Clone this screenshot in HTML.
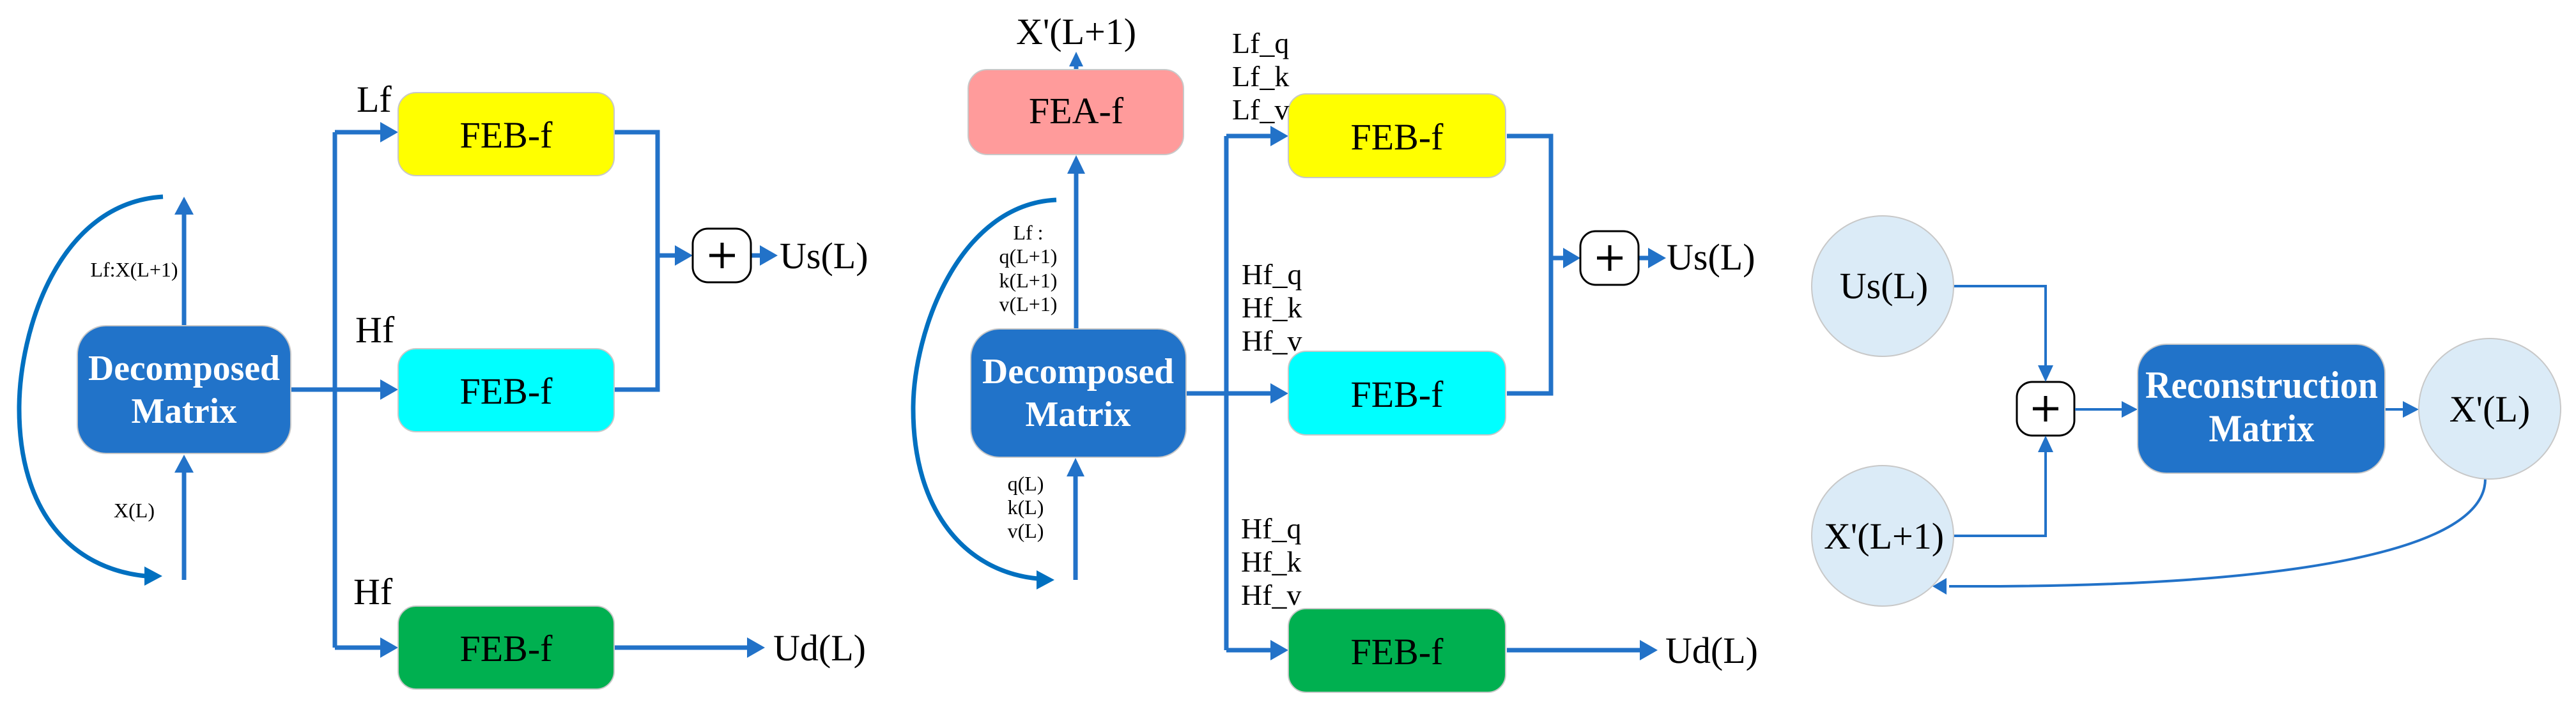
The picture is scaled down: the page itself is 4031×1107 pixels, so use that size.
<!DOCTYPE html>
<html><head><meta charset="utf-8"><style>
html,body{margin:0;padding:0;background:#fff;}
svg{display:block;}
svg text{font-family:"Liberation Serif","DejaVu Serif",serif;}
</style></head><body>
<svg width="4031" height="1107" viewBox="0 0 4031 1107" xmlns="http://www.w3.org/2000/svg" font-family="Liberation Serif, DejaVu Serif, serif">
<g fill="none" stroke="#2272c8" stroke-width="7">
<path d="M288,510 V335"/>
<path d="M288,908 V740"/>
<path d="M255,308 C90,318 30,520 30,640 C30,800 110,890 228,902" stroke="#0070c0"/>
<path d="M455,610 H596"/>
<path d="M524,207 V1014"/>
<path d="M524,207 H596 M524,1014 H596"/>
<path d="M961,207 H1029 V610 H961"/>
<path d="M1029,400 H1057"/>
<path d="M1175,400 H1190"/>
<path d="M961,1014 H1170"/>
<path d="M1684,515 V270"/>
<path d="M1684,108 V95"/>
<path d="M1683,908 V745"/>
<path d="M1653,313 C1500,320 1429,520 1429,640 C1429,800 1510,895 1624,906" stroke="#0070c0"/>
<path d="M1856,616 H1990"/>
<path d="M1919,213 V1018"/>
<path d="M1919,213 H1990 M1919,1018 H1990"/>
<path d="M2358,213 H2427 V616 H2358"/>
<path d="M2427,404 H2447"/>
<path d="M2564,404 H2580"/>
<path d="M2358,1018 H2568"/>
</g>
<g fill="#2272c8">
<polygon points="288,308 273,336 303,336"/>
<polygon points="288,712 273,740 303,740"/>
<polygon points="254,902 226,887 226,917" fill="#0070c0"/>
<polygon points="623,610 595,594 595,626"/>
<polygon points="623,207 595,191 595,223"/>
<polygon points="623,1014 595,998 595,1030"/>
<polygon points="1084,400 1056,384 1056,416"/>
<polygon points="1217,400 1189,384 1189,416"/>
<polygon points="1197,1014 1169,998 1169,1030"/>
<polygon points="1684,243 1670,272 1698,272"/>
<polygon points="1684,81 1673,104 1695,104"/>
<polygon points="1683,717 1669,746 1697,746"/>
<polygon points="1650,908 1622,893 1622,923" fill="#0070c0"/>
<polygon points="2016,213 1988,197 1988,229"/>
<polygon points="2016,616 1988,600 1988,632"/>
<polygon points="2016,1018 1988,1002 1988,1034"/>
<polygon points="2473,404 2446,388 2446,420"/>
<polygon points="2607,404 2579,388 2579,420"/>
<polygon points="2594,1018 2566,1002 2566,1034"/>
</g>
<g stroke="#c8c8c8" stroke-width="2">
<rect x="121" y="510" width="334" height="200" rx="45" fill="#2173c9"/>
<rect x="623" y="145" width="338" height="130" rx="28" fill="#ffff00"/>
<rect x="623" y="546" width="338" height="130" rx="28" fill="#00ffff"/>
<rect x="623" y="949" width="338" height="130" rx="28" fill="#00b050"/>
<rect x="1515" y="109" width="337" height="133" rx="30" fill="#ff9b9b"/>
<rect x="1519" y="515" width="337" height="201" rx="45" fill="#2173c9"/>
<rect x="2016" y="147" width="340" height="131" rx="28" fill="#ffff00"/>
<rect x="2016" y="550" width="340" height="131" rx="28" fill="#00ffff"/>
<rect x="2016" y="953" width="340" height="131" rx="28" fill="#00b050"/>
</g>
<rect x="1084" y="358" width="91" height="84" rx="24" fill="#fff" stroke="#000" stroke-width="3"/>
<rect x="2473" y="362" width="91" height="84" rx="24" fill="#fff" stroke="#000" stroke-width="3"/>
<rect x="3156" y="598" width="90" height="84" rx="24" fill="#fff" stroke="#000" stroke-width="3"/>
<g stroke="#000" stroke-width="5">
<path d="M1110,400 H1150 M1130,380 V420"/>
<path d="M2499,404 H2539 M2519,384 V424"/>
<path d="M3181,640 H3221 M3201,620 V660"/>
</g>
<g fill="none" stroke="#2272c8" stroke-width="4">
<path d="M3057,448 H3201 V575"/>
<path d="M3057,839 H3201 V705"/>
<path d="M3247,641 H3322"/>
<path d="M3732,641 H3762"/>
<path d="M3889,750 C3889,860 3600,915 3130,918 L3050,918"/>
</g>
<g fill="#2272c8">
<polygon points="3201,598 3189,572 3213,572"/>
<polygon points="3201,682 3189,708 3213,708"/>
<polygon points="3345,641 3320,628 3320,654"/>
<polygon points="3785,641 3760,628 3760,654"/>
<polygon points="3024,918 3046,905 3046,931"/>
</g>
<g fill="#dbebf7" stroke="#c8c8c8" stroke-width="2">
<ellipse cx="2946" cy="448" rx="111" ry="110"/>
<ellipse cx="2946" cy="839" rx="111" ry="110"/>
<ellipse cx="3896" cy="640" rx="111" ry="110"/>
</g>
<rect x="3345" y="539" width="387" height="202" rx="45" fill="#2173c9" stroke="#c8c8c8" stroke-width="2"/>
<g fill="#fff" font-weight="bold" text-anchor="middle" font-size="56">
<text x="288" y="595" textLength="300" lengthAdjust="spacingAndGlyphs">Decomposed</text>
<text x="288" y="662" textLength="165" lengthAdjust="spacingAndGlyphs">Matrix</text>
<text x="1687" y="600" textLength="300" lengthAdjust="spacingAndGlyphs">Decomposed</text>
<text x="1687" y="667" textLength="165" lengthAdjust="spacingAndGlyphs">Matrix</text>
<text x="3539" y="623" textLength="364" lengthAdjust="spacingAndGlyphs" font-size="60">Reconstruction</text>
<text x="3539" y="691" textLength="165" lengthAdjust="spacingAndGlyphs" font-size="60">Matrix</text>
</g>
<g fill="#000" font-size="58">
<text x="792" y="231" text-anchor="middle">FEB-f</text>
<text x="792" y="632" text-anchor="middle">FEB-f</text>
<text x="792" y="1035" text-anchor="middle">FEB-f</text>
<text x="1684" y="193" text-anchor="middle">FEA-f</text>
<text x="2186" y="234" text-anchor="middle">FEB-f</text>
<text x="2186" y="637" text-anchor="middle">FEB-f</text>
<text x="2186" y="1040" text-anchor="middle">FEB-f</text>
<text x="1684" y="69" text-anchor="middle">X'(L+1)</text>
<text x="1220" y="420">Us(L)</text>
<text x="1210" y="1034">Ud(L)</text>
<text x="2608" y="422">Us(L)</text>
<text x="2606" y="1038">Ud(L)</text>
<text x="558" y="175">Lf</text>
<text x="556" y="536">Hf</text>
<text x="553" y="946">Hf</text>
<text x="2948" y="467" text-anchor="middle">Us(L)</text>
<text x="2948" y="859" text-anchor="middle">X'(L+1)</text>
<text x="3896" y="660" text-anchor="middle">X'(L)</text>
</g>
<g fill="#000" font-size="46">
<text x="1928" y="83">Lf_q</text>
<text x="1928" y="135">Lf_k</text>
<text x="1928" y="187">Lf_v</text>
<text x="1943" y="445">Hf_q</text>
<text x="1943" y="497">Hf_k</text>
<text x="1943" y="549">Hf_v</text>
<text x="1942" y="843">Hf_q</text>
<text x="1942" y="895">Hf_k</text>
<text x="1942" y="947">Hf_v</text>
</g>
<g fill="#000" font-size="32" text-anchor="middle">
<text x="210" y="433">Lf:X(L+1)</text>
<text x="210" y="810">X(L)</text>
<text x="1609" y="375">Lf :</text>
<text x="1609" y="412">q(L+1)</text>
<text x="1609" y="450">k(L+1)</text>
<text x="1609" y="487">v(L+1)</text>
<text x="1605" y="768">q(L)</text>
<text x="1605" y="805">k(L)</text>
<text x="1605" y="842">v(L)</text>
</g>
</svg>
</body></html>
